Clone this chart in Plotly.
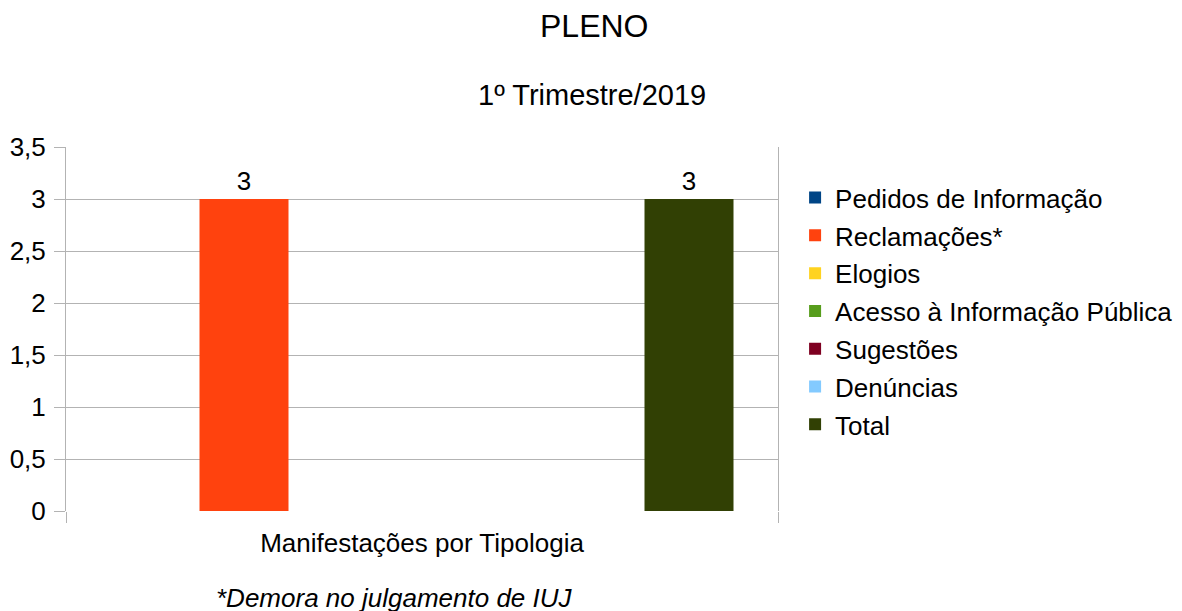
import plotly.graph_objects as go

# ── data ───────────────────────────────────────────────────────────────────
CATEGORIES = ["Manifestações por Tipologia"]
SERIES = [
    "Pedidos de Informação",
    "Reclamações*",
    "Elogios",
    "Acesso à Informação Pública",
    "Sugestões",
    "Denúncias",
    "Total",
]
VALUES = [0, 3, 0, 0, 0, 0, 3]

# ── colours (LibreOffice default palette) ──────────────────────────────────
COLORS = ["#004586", "#ff420e", "#ffd320", "#579d1c", "#7e0021", "#83caff", "#314004"]
GRID = "#b3b3b3"
FONT = "Liberation Sans, Arial, sans-serif"

fig = go.Figure()

for i, (name, val, col) in enumerate(zip(SERIES, VALUES, COLORS)):
    fig.add_trace(go.Bar(
        x=CATEGORIES, y=[val],
        name=name,
        marker=dict(color=col, line=dict(width=0)),
        text=[str(val) if val else ""],
        textposition="outside",
        textfont=dict(size=26, color="black"),
        cliponaxis=False,
        legendgroup=str(i),
    ))

# page body adds an 8px offset, so margins are shifted by that much
fig.update_layout(
    width=1182, height=611,
    paper_bgcolor="white",
    plot_bgcolor="white",
    font=dict(family=FONT, color="black", size=26),
    separators=",.",
    margin=dict(l=58, r=412, t=139, b=108),
    barmode="group",
    bargap=0.125,
    bargroupgap=0,
    xaxis=dict(
        showgrid=False,
        ticks="outside", ticklen=11, tickcolor=GRID,
        tickson="boundaries",
        tickfont=dict(size=26),
        ticklabelstandoff=14,
        showline=False,
        zeroline=False,
        automargin=False,
    ),
    yaxis=dict(
        range=[0, 3.5], dtick=0.5,
        showgrid=True, gridcolor=GRID, gridwidth=1,
        ticks="outside", ticklen=11, tickcolor=GRID,
        ticklabelstandoff=3,
        showline=True, linecolor=GRID, linewidth=1, mirror=True,
        zeroline=False,
        tickfont=dict(size=26),
        automargin=False,
    ),
    legend=dict(
        x=1.024, xanchor="left",
        y=0.549, yanchor="middle",
        font=dict(size=26),
        traceorder="grouped",
        tracegroupgap=1,
        itemwidth=30,
    ),
    annotations=[
        dict(text="PLENO", xref="paper", yref="paper",
             x=0.741, y=1.333, xanchor="center", yanchor="middle",
             showarrow=False, font=dict(size=32)),
        dict(text="1º Trimestre/2019", xref="paper", yref="paper",
             x=0.739, y=1.143, xanchor="center", yanchor="middle",
             showarrow=False, font=dict(size=29)),
        dict(text="<i>*Demora no julgamento de IUJ</i>",
             xref="paper", yref="paper",
             x=0.461, y=-0.239, xanchor="center", yanchor="middle",
             showarrow=False, font=dict(size=26)),
    ],
)

fig.write_html("out.html")
